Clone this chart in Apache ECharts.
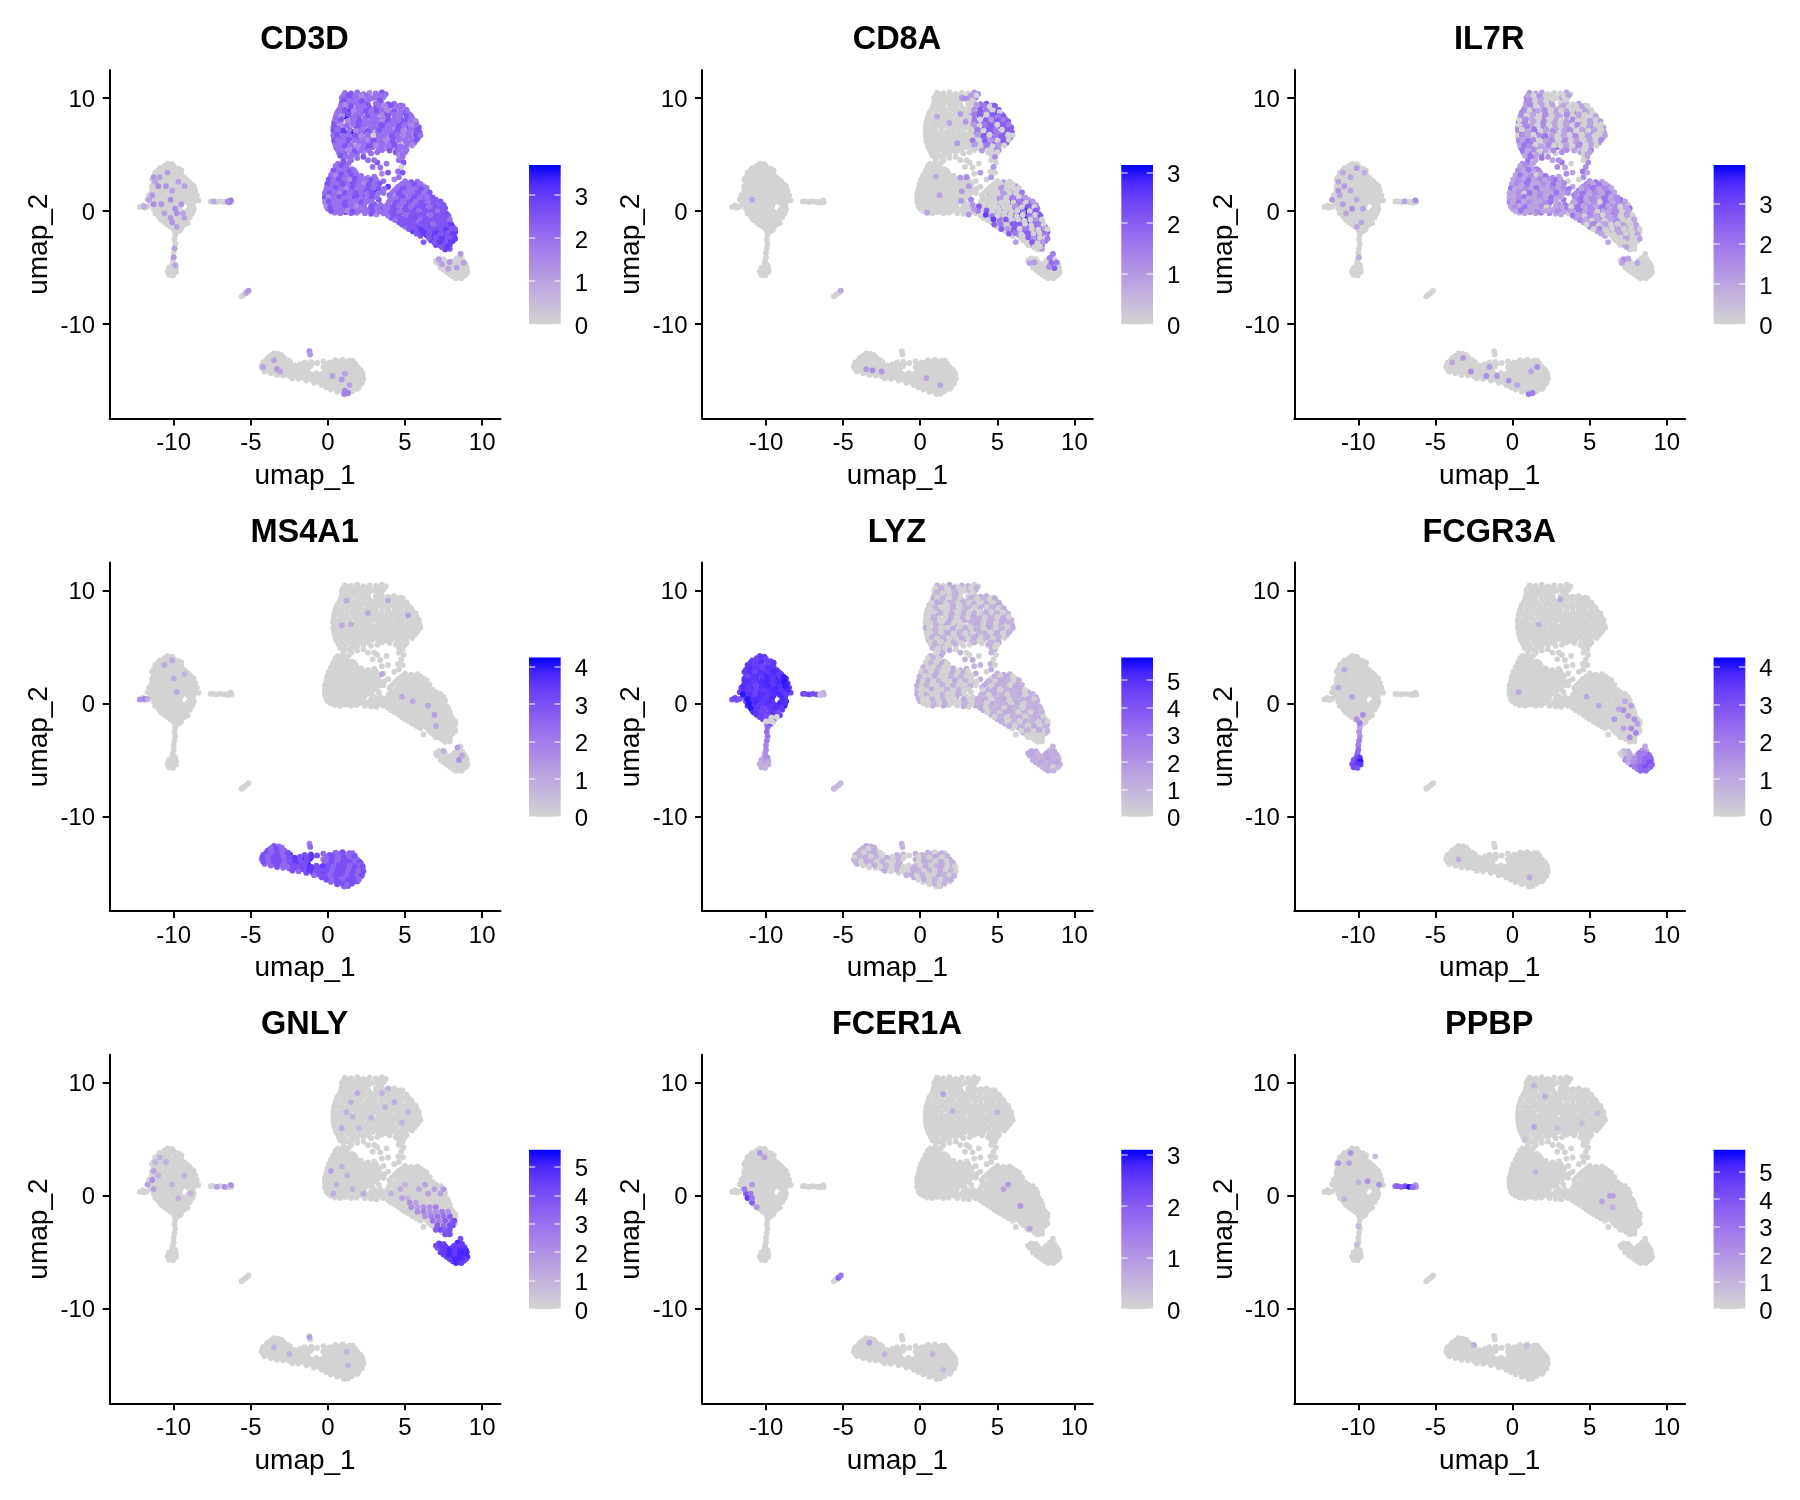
<!DOCTYPE html>
<html><head><meta charset="utf-8">
<style>html,body{margin:0;background:#fff}#c{width:1800px;height:1500px}</style>
<script src="https://cdn.jsdelivr.net/npm/echarts@6/dist/echarts.min.js"></script>
</head><body><div id="c"></div>
<script>
// Shared cell positions (flat x,y pairs per cluster)
const T1=[1.1,10.45,1.5,10.4,1.9,10.5,2.3,10.35,2.7,10.45,.9,10,1.2,10.05,1.6,9.95,2,10.1,2.3,9.9,2.9,10,.9,9.6,1.3,9.55,1.7,9.65,2.1,9.5,2.4,9.6,.8,9.1,1.2,9.2,1.5,9.05,1.9,9.15,2.3,9.05,2.7,9.15,.6,8.7,1,8.65,1.4,8.8,1.8,8.6,2.2,8.75,2.6,8.6,2.95,8.7,.5,8.3,.9,8.2,1.2,8.35,1.6,8.25,2,8.4,2.4,8.2,2.8,8.3,.4,7.85,.7,7.9,1.1,7.8,1.5,7.95,1.9,7.8,2.2,7.9,2.6,7.8,2.95,7.9,.35,7.4,.7,7.35,1,7.45,1.4,7.35,1.8,7.5,2.1,7.35,2.5,7.45,2.9,7.35,.4,6.95,.8,7,1.2,6.9,1.6,7,2,6.9,2.4,7,2.8,6.9,.4,6.5,.8,6.45,1.1,6.55,1.5,6.45,1.9,6.5,2.3,6.4,2.7,6.55,.45,6.05,.9,6,1.2,6.1,1.6,5.95,2,6.1,2.4,6,2.8,6.05,.55,5.6,.9,5.55,1.3,5.65,1.7,5.5,2.1,5.6,2.5,5.55,2.9,5.65,.7,5.2,1.1,5.1,1.5,5.25,1.9,5.1,2.3,5.2,2.8,5.1];
const T2=[3.1,10.4,3.5,10.5,3.75,10.35,3.2,10,3.6,10.05,3.1,9.5,3.5,9.55,3.9,9.45,4.3,9.5,4.7,9.35,3.1,9.1,3.5,9,3.9,9.1,4.3,9,4.7,9.05,5.1,8.95,3.3,8.7,3.7,8.6,4.1,8.7,4.5,8.6,4.9,8.7,5.3,8.55,3.1,8.3,3.5,8.2,3.9,8.3,4.3,8.2,4.7,8.3,5.1,8.2,5.5,8.15,3.3,7.85,3.7,7.8,4.1,7.9,4.4,7.8,4.8,7.9,5.2,7.8,5.6,7.85,3.2,7.4,3.6,7.45,4,7.35,4.4,7.45,4.8,7.35,5.2,7.45,5.6,7.35,5.9,7.4,3.2,6.95,3.5,6.9,3.9,7,4.3,6.9,4.7,7,5.1,6.9,5.5,7,5.95,6.95,3.1,6.5,3.5,6.55,3.9,6.45,4.3,6.55,4.7,6.45,5.1,6.55,5.5,6.45,5.85,6.5,3.2,6.05,3.6,6,4,6.1,4.4,5.95,4.8,6.1,5.2,6,5.6,6.05,3.3,5.6,3.7,5.55,4.1,5.65,4.5,5.5,4.9,5.6,5.1,5.4,3.2,5.2,4.4,5.2,4.8,5.1];
const T3=[2.9,3.9,3.2,4.3,3.4,3.85,3.5,3.3,3.8,4.2,3.9,3.4,3,4.5,4.85,4.8,4.9,4.3,4.6,4.5,4.75,3.9,4.55,3.5,4.85,3.4,4.6,3,4.3,2.8,1.3,4.8,1,4.5,1.5,4.5,1.9,4.7,2.3,4.8,2.6,4.5];
const T4=[.65,4.2,1,4.15,1.35,4.25,.5,3.8,.85,3.75,1.2,3.85,1.55,3.7,.35,3.4,.7,3.35,1.05,3.45,1.4,3.3,1.8,3.4,.2,3,.55,2.95,.9,3.05,1.25,2.9,1.6,3,1.95,3.05,2.6,2.95,3,3.05,.1,2.6,.45,2.55,.8,2.65,1.15,2.5,1.5,2.6,1.85,2.55,2.2,2.65,2.5,2.5,2.85,2.6,3.2,2.55,3.6,2.65,0,2.2,.35,2.25,.7,2.15,1.05,2.25,1.4,2.1,1.75,2.2,2.1,2.15,2.45,2.25,2.8,2.1,3.15,2.2,3.9,2.15,-.1,1.8,.25,1.75,.6,1.85,.95,1.7,1.3,1.8,1.65,1.85,2,1.7,2.35,1.8,2.7,1.75,3.05,1.85,3.4,1.75,-.15,1.4,.2,1.35,.55,1.45,.9,1.3,1.25,1.4,1.6,1.35,1.95,1.45,2.3,1.3,2.65,1.4,3,1.35,-.15,1,.2,1.05,.55,.95,.9,1.05,1.25,.9,1.6,1,1.95,.95,2.3,1.05,2.65,.9,3.3,1,-.1,.6,.25,.55,.6,.65,.95,.5,1.3,.6,1.65,.55,2,.65,2.35,.5,3,.6,3.4,.55,0,.2,.35,.15,.7,.25,1.05,.1,1.4,.2,1.75,.15,2.1,.25,2.6,.1,3.1,.2,3.5,.15,.45,-.15,.8,-.2,1.15,-.1,1.5,-.2,1.85,-.15,2.4,-.2,2.8,-.25,3.15,-.3];
const T5=[5,2.65,5.4,2.55,5.8,2.6,4.6,2.2,5,2.15,5.4,2.25,5.8,2.1,6.2,2.2,4.3,1.8,4.7,1.85,5.1,1.75,5.5,1.85,5.9,1.7,6.3,1.8,4,1.4,4.5,1.35,4.9,1.45,5.3,1.3,5.7,1.4,6.1,1.35,6.5,1.45,4.2,1,4.6,.95,5,1.05,5.4,.9,5.8,1,6.2,.95,6.6,1.05,7,1,3.9,.6,4.3,.55,4.7,.65,5.1,.5,5.5,.6,5.9,.55,6.3,.65,6.7,.5,7.1,.6,7.5,.55,3.7,.2,4.1,.15,4.5,.25,4.9,.1,5.3,.2,5.7,.15,6.1,.25,6.5,.1,6.9,.2,7.3,.15,7.6,.25,3.6,-.2,4,-.15,4.4,-.25,4.8,-.1,5.2,-.2,5.6,-.15,6,-.25,6.4,-.1,6.8,-.2,7.2,-.15,7.7,-.25,4.1,-.6,4.5,-.55,4.9,-.65,5.3,-.5,5.7,-.6,6.1,-.55,6.5,-.65,6.9,-.5,7.3,-.6,7.75,-.55,4.6,-1,5,-1.05,5.4,-.95,5.8,-1.05,6.2,-.9,6.6,-1,7,-.95,7.4,-1.05,7.9,-1,5,-1.4,5.4,-1.35,5.8,-1.45,6.2,-1.3,6.6,-1.4,7,-1.35,7.4,-1.45,7.8,-1.3,8.1,-1.4,5.5,-1.8,5.9,-1.85,6.3,-1.75,6.7,-1.85,7.1,-1.7,7.5,-1.8,7.9,-1.75,8.25,-1.85,6,-2.2,6.4,-2.15,6.8,-2.25,7.2,-2.1,7.6,-2.2,8,-2.15,8.2,-2.3,6.2,-2.75,6.7,-2.6,7.1,-2.55,7.5,-2.65,7.9,-2.55,8.1,-2.65,7,-3,7.3,-3.05,7.6,-2.95,7.9,-3.05,7.6,-3.4,7.9,-3.35];
const NK=[8.6,-3.8,7.2,-4.2,7.5,-4.25,8.4,-4.15,8.7,-4.25,7.1,-4.6,7.4,-4.55,7.75,-4.65,8.1,-4.55,8.5,-4.6,8.85,-4.55,7.3,-5,7.65,-4.95,8,-5.05,8.35,-4.95,8.7,-5.05,9,-5,7.7,-5.4,8.05,-5.35,8.4,-5.45,8.75,-5.35,9.05,-5.4,8.1,-5.8,8.45,-5.85,8.8,-5.75];
const MO=[-10.4,4.2,-10.1,4.15,-10.9,3.8,-10.5,3.75,-10.1,3.85,-9.7,3.75,-11.2,3.4,-10.8,3.35,-10.4,3.45,-10,3.3,-9.6,3.4,-11.3,3,-10.9,2.95,-10.5,3.05,-10.1,2.9,-9.7,3,-9.3,2.95,-11.3,2.6,-10.9,2.55,-10.5,2.65,-10.1,2.5,-9.7,2.6,-9.3,2.55,-9,2.6,-11.4,2.2,-11,2.25,-10.6,2.15,-10.2,2.25,-9.8,2.1,-9.4,2.2,-9,2.15,-8.7,2.2,-11.3,1.8,-10.9,1.75,-10.5,1.85,-10.1,1.7,-9.7,1.8,-9.3,1.85,-8.9,1.75,-8.6,1.8,-11.6,1.4,-11.2,1.35,-10.8,1.45,-10.4,1.3,-10,1.4,-9.6,1.35,-9.2,1.45,-8.8,1.3,-8.5,1.4,-11.7,1,-11.3,1.05,-10.9,.95,-10.5,1.05,-10.1,.9,-9.7,1,-9.3,.95,-8.9,1.05,-8.5,1,-11.4,.6,-11,.55,-10.6,.65,-10.2,.5,-9.8,.6,-9.5,.7,-8.8,.55,-11.3,.2,-10.9,.15,-10.5,.25,-10.1,.1,-9.7,.2,-8.7,.2,-11.2,-.2,-10.8,-.15,-10.4,-.25,-10,-.1,-9.6,-.2,-9.2,-.15,-8.8,-.2,-10.9,-.6,-10.5,-.55,-10.1,-.65,-9.7,-.5,-9.3,-.6,-8.95,-.55,-10.6,-1,-10.2,-1.05,-9.8,-.95,-9.4,-1,-9.1,-1.05,-10.2,-1.4,-9.8,-1.35,-9.5,-1.45,-9.95,-1.75,-9.7,-1.8,-12.2,.35,-11.9,.3,-12,.5,-11.7,.4];
const ST=[-9.9,-2.1,-9.95,-2.5,-9.9,-2.9,-9.95,-3.3,-10,-3.7,-10,-4.1,-10.05,-4.4,-10.1,-4.7,-9.9,-4.8,-10.3,-5,-10,-5.1,-9.85,-5.1,-10.4,-5.35,-10.1,-5.4,-9.85,-5.4,-10.3,-5.65,-10.05,-5.7];
const SK=[-8.65,1,-8.4,.95,-7.6,.85,-7.45,.85,-7.2,.8,-6.95,.85,-6.7,.8,-6.5,.8,-6.3,.95,-6.25,.8,-6.45,.75];
const DC=[-5.6,-7.55,-5.45,-7.4,-5.3,-7.25,-5.15,-7.05];
const B=[-1.2,-12.4,-1.15,-12.7,-3.5,-12.6,-3.2,-12.65,-3.9,-13,-3.55,-12.95,-3.2,-13.05,-2.85,-13,-4.2,-13.4,-3.85,-13.35,-3.5,-13.45,-3.15,-13.3,-2.8,-13.4,-2.45,-13.35,.4,-13.35,.8,-13.3,1.2,-13.35,1.6,-13.25,-1.5,-13.4,-1.1,-13.35,-.7,-13.45,-.3,-13.3,.1,-13.4,-4.3,-13.8,-3.95,-13.75,-3.6,-13.85,-3.25,-13.7,-2.9,-13.8,-2.55,-13.75,-2.2,-13.85,-1.85,-13.7,-1.5,-13.8,-1.15,-13.75,-.3,-13.8,.05,-13.7,.4,-13.8,.8,-13.75,1.2,-13.85,1.6,-13.7,1.9,-13.8,-4.1,-14.2,-3.75,-14.15,-3.4,-14.25,-3.05,-14.1,-2.7,-14.2,-2.35,-14.15,-2,-14.25,-1.65,-14.1,-1.3,-14.2,-.2,-14.2,.15,-14.15,.5,-14.25,.85,-14.1,1.2,-14.2,1.55,-14.15,1.9,-14.25,2.15,-14.15,-3.3,-14.5,-2.9,-14.55,-2.5,-14.6,-2.1,-14.55,-1.7,-14.65,-1.35,-14.55,-1,-14.6,-.6,-14.5,-.25,-14.65,.1,-14.55,.45,-14.6,.8,-14.5,1.15,-14.65,1.5,-14.55,1.85,-14.6,2.25,-14.55,-1.4,-15,-1,-14.95,-.6,-15.05,-.25,-14.9,.1,-15,.45,-14.95,.8,-15.05,1.15,-14.9,1.5,-15,1.85,-14.95,2.2,-15.05,-.4,-15.4,-.05,-15.35,.3,-15.45,.65,-15.3,1,-15.4,1.35,-15.35,1.7,-15.45,2.05,-15.35,.2,-15.8,.55,-15.75,.9,-15.85,1.25,-15.7,1.6,-15.8,1.9,-15.75,1.05,-16.2,1.3,-16.15];
// Cells lying between the rows above, where the reference packs its clusters tighter
const FA=[1,10.2,1.35,10.25,1.75,10.15,2.15,10.25,2.55,10.2,1.05,9.8,1.45,9.75,1.85,9.85,2.2,9.75,2.65,9.85,.85,9.35,1.1,9.4,1.5,9.3,1.9,9.4,2.25,9.3,2.6,9.4,.7,8.9,1.1,8.95,1.65,8.85,2.05,8.95,2.45,8.85,2.85,8.95,.55,8.5,.95,8.45,1.35,8.55,1.75,8.45,2.15,8.55,2.55,8.4,2.95,8.5,.45,8.05,.85,8.1,1.3,8,1.7,8.1,2.05,8,2.4,8.1,2.8,8.05,.4,7.6,.85,7.65,1.25,7.55,1.65,7.65,2,7.55,2.35,7.65,2.75,7.6,.35,7.15,.6,7.2,1,7.1,1.4,7.2,1.8,7.1,2.2,7.2,2.6,7.1,.35,6.7,.6,6.75,1,6.65,1.35,6.75,1.75,6.7,2.15,6.65,2.55,6.75,2.95,6.7,.4,6.25,.65,6.3,1,6.2,1.35,6.3,1.75,6.25,2.15,6.2,2.55,6.3,2.95,6.25,.5,5.8,.75,5.85,1.1,5.75,1.5,5.85,1.9,5.75,2.3,5.85,2.7,5.8,.65,5.4,.95,5.35,1.35,5.45,1.75,5.3,2.15,5.4,2.65,5.35,.8,4.9,1.15,4.85,1.6,4.95];
const FT=[3.3,10.2,3.65,10.25,3.4,9.8,3.3,9.35,3.7,9.3,4.1,9.35,4.5,9.25,4.85,9.3,3.15,8.9,3.5,8.85,3.9,8.95,4.3,8.8,4.7,8.9,5.15,8.75,3.5,8.5,3.9,8.45,4.3,8.55,4.7,8.5,5.1,8.45,5.4,8.4,3.15,8.05,3.5,8,3.9,8.1,4.25,8,4.6,8.1,5,8,5.4,8.05,5.7,7.95,3.1,7.6,3.45,7.65,3.85,7.55,4.2,7.65,4.6,7.55,5,7.65,5.4,7.6,5.75,7.65,3.35,7.15,3.7,7.2,4.1,7.1,4.5,7.2,4.9,7.1,5.3,7.2,5.75,7.15,3.3,6.7,3.7,6.75,4.1,6.65,4.5,6.75,4.9,6.7,5.3,6.65,5.7,6.75,6,6.7,3.4,6.25,3.8,6.3,4.2,6.2,4.6,6.3,5,6.25,5.4,6.2,5.75,6.3,3.1,5.8,3.5,5.85,3.9,5.75,4.3,5.85,4.7,5.75,5.1,5.85,5.45,5.8,3.5,5.4,4,5.35,4.6,5.4,5,5.2,4.6,4.95,4.85,5];
const FC=[.5,4,.85,4.05,1.2,3.95,.35,3.6,.7,3.55,1.05,3.65,1.4,3.5,1.7,3.6,.2,3.2,.5,3.15,.85,3.25,1.2,3.1,1.55,3.2,1.85,3.25,2.15,3.1,.05,2.8,.35,2.75,.7,2.85,1.05,2.7,1.4,2.8,1.75,2.85,2.1,2.75,2.45,2.85,2.8,2.75,3.1,2.85,-.05,2.4,.3,2.45,.6,2.35,.95,2.45,1.3,2.35,1.65,2.4,2,2.35,2.35,2.45,2.65,2.35,3,2.4,3.35,2.45,-.1,2,.15,1.95,.5,2.05,.85,1.95,1.2,2,1.55,2.05,1.9,1.95,2.25,2.05,2.6,1.95,2.95,2,3.3,2.05,3.65,1.95,-.2,1.6,.1,1.55,.4,1.65,.75,1.55,1.1,1.6,1.45,1.65,1.8,1.55,2.15,1.6,2.5,1.55,2.85,1.65,3.25,1.55,3.6,1.6,-.2,1.2,.05,1.25,.4,1.15,.75,1.25,1.05,1.15,1.4,1.2,1.75,1.25,2.15,1.15,2.5,1.2,2.85,1.15,3.15,1.25,-.2,.8,.05,.85,.4,.75,.75,.85,1.1,.75,1.45,.8,1.8,.85,2.15,.75,2.45,.8,2.85,.85,-.1,.4,.15,.35,.45,.45,.8,.35,1.15,.4,1.5,.35,1.85,.45,2.2,.35,2.8,.4,3.2,.35,3.7,.4,.2,0,.55,.05,.9,-.05,1.25,.05,1.6,-.05,2,0,2.3,.05,2.9,0,3.35,-.05];
const FD=[4.8,2.4,5.2,2.45,5.6,2.35,6,2.4,4.45,2,4.85,1.95,5.25,2.05,5.65,1.95,6.05,2,6.4,2.05,4.15,1.6,4.6,1.55,5,1.65,5.4,1.55,5.8,1.6,6.2,1.55,6.6,1.65,4.05,1.2,4.4,1.15,4.8,1.25,5.2,1.15,5.6,1.2,6,1.15,6.4,1.25,6.8,1.2,3.95,.8,4.45,.75,4.85,.85,5.25,.75,5.65,.8,6.05,.75,6.45,.85,6.85,.75,7.3,.85,3.8,.4,4.2,.35,4.6,.45,5,.35,5.4,.4,5.8,.35,6.2,.45,6.6,.35,7,.4,7.4,.35,3.75,0,4.3,.05,4.7,-.05,5.1,.05,5.5,-.05,5.9,0,6.3,.05,6.7,-.05,7.1,0,7.5,.05,3.9,-.4,4.25,-.35,4.65,-.45,5.05,-.35,5.45,-.4,5.85,-.35,6.25,-.45,6.65,-.35,7.05,-.4,7.45,-.35,7.8,-.4,4.35,-.8,4.75,-.75,5.15,-.85,5.55,-.75,5.95,-.8,6.35,-.75,6.75,-.85,7.15,-.75,7.55,-.8,7.9,-.75,4.8,-1.2,5.2,-1.15,5.6,-1.25,6,-1.15,6.4,-1.2,6.8,-1.15,7.2,-1.25,7.6,-1.15,8,-1.2,5.25,-1.6,5.65,-1.55,6.05,-1.65,6.45,-1.55,6.85,-1.6,7.25,-1.55,7.65,-1.65,8.05,-1.55,8.25,-1.6,5.75,-2,6.15,-1.95,6.55,-2.05,6.95,-1.95,7.35,-2,7.75,-1.95,8.1,-2.05,6.55,-2.4,7,-2.35,7.35,-2.45,7.75,-2.35,8.1,-2.4,8.25,-2.45,6.9,-2.8,7.25,-2.75,7.6,-2.85,7.95,-2.75,7.4,-3.2,7.75,-3.15];
const FM=[-10.6,4,-10.3,4.05,-10,3.95,-11,3.6,-10.7,3.55,-10.3,3.65,-9.9,3.55,-9.5,3.6,-11.1,3.2,-10.7,3.15,-10.3,3.25,-9.9,3.15,-9.5,3.2,-11.4,2.8,-11.1,2.75,-10.7,2.85,-10.3,2.75,-9.9,2.8,-9.5,2.85,-9.15,2.75,-11.2,2.4,-10.7,2.35,-10.3,2.45,-9.9,2.35,-9.5,2.4,-9.15,2.45,-8.85,2.35,-11.4,2,-11.1,1.95,-10.7,2.05,-10.3,1.95,-9.95,2,-9.55,2.05,-9.2,1.95,-8.8,2,-11.45,1.6,-11.1,1.55,-10.7,1.65,-10.3,1.55,-9.9,1.6,-9.5,1.65,-9.1,1.55,-8.7,1.6,-11.5,1.2,-11,1.15,-10.6,1.25,-10.2,1.15,-9.8,1.2,-9.4,1.25,-9,1.15,-8.6,1.2,-11.5,.8,-11.1,.75,-10.7,.85,-10.3,.75,-9.9,.8,-9.5,.85,-9.1,.75,-8.7,.8,-11.2,.4,-10.8,.35,-10.4,.45,-10,.35,-9.6,.4,-8.75,.35,-8.95,.4,-11.1,0,-10.7,.05,-10.3,-.05,-9.9,.05,-9.5,-.05,-8.75,0,-9.1,.05,-11,-.4,-10.6,-.35,-10.2,-.45,-9.8,-.35,-9.4,-.4,-9,-.35,-10.8,-.8,-10.35,-.75,-9.95,-.85,-9.55,-.75,-9.2,-.8,-10.4,-1.2,-10,-1.15,-9.65,-1.25,-9.3,-1.2,-10,-1.6,-9.75,-1.55,-9.55,-1.65];
const FL=[-3.7,-12.8,-3.35,-12.85,-3,-12.75,-4,-13.2,-3.65,-13.15,-3.3,-13.25,-2.95,-13.15,-2.6,-13.2,.5,-13.2,.95,-13.15,1.4,-13.25,1.75,-13.5,-4.25,-13.6,-3.9,-13.55,-3.55,-13.65,-3.2,-13.55,-2.85,-13.6,-2.5,-13.55,-2.15,-13.65,-1.8,-13.55,-1.4,-13.6,-1.05,-13.55,-.1,-13.6,.25,-13.55,.6,-13.65,1,-13.55,1.4,-13.6,-4.2,-14,-3.85,-13.95,-3.5,-14.05,-3.15,-13.95,-2.8,-14,-2.45,-13.95,-2.1,-14.05,-1.75,-13.95,-1.4,-14,-.1,-14,.25,-13.95,.6,-14.05,1,-13.95,1.35,-14,1.75,-13.95,2.05,-14,-3.7,-14.35,-3.3,-14.4,-2.95,-14.35,-2.6,-14.45,-2.2,-14.35,-1.85,-14.4,-1.5,-14.35,-1.1,-14.45,-.75,-14.35,-.35,-14.4,0,-14.35,.35,-14.45,.7,-14.35,1.05,-14.4,1.4,-14.35,1.75,-14.45,2.1,-14.35,2.25,-14.4,-2.3,-14.8,-1.9,-14.85,-1.5,-14.75,-1.2,-14.8,-.8,-14.85,-.45,-14.75,-.1,-14.8,.25,-14.85,.6,-14.75,.95,-14.8,1.3,-14.85,1.65,-14.75,2,-14.8,2.3,-14.85,-.9,-15.2,-.55,-15.15,-.2,-15.25,.15,-15.15,.5,-15.2,.85,-15.15,1.2,-15.25,1.55,-15.15,1.9,-15.2,2.2,-15.25,-.1,-15.6,.25,-15.55,.6,-15.65,.95,-15.55,1.3,-15.6,1.65,-15.55,2,-15.6,.6,-16,.95,-15.95,1.25,-16.05,1.55,-15.95];
const FK=[7,-4.4,7.3,-4.4,7.6,-4.45,7.55,-4.85,7.9,-4.85,8.25,-4.8,8.6,-4.8,8.95,-4.8,7.5,-5.2,7.85,-5.2,8.2,-5.25,8.55,-5.2,8.9,-5.2,7.9,-5.6,8.25,-5.6,8.6,-5.65,8.95,-5.6,8.3,-5.95,8.65,-5.95,8.55,-4.4,8.2,-4.4];

// Gene names, colour-bar tops and tick labels
const genes=['CD3D','CD8A','IL7R','MS4A1','LYZ','FCGR3A','GNLY','FCER1A','PPBP'];
const geneMax=[3.7,3.15,3.96,4.24,5.83,4.25,5.6,3.09,5.8];
const barTicks=[[0,1,2,3],[0,1,2,3],[0,1,2,3],[0,1,2,3,4],[0,1,2,3,4,5],[0,1,2,3,4],[0,1,2,3,4,5],[0,1,2,3],[0,1,2,3,4,5]];
const xTicks=[-10,-5,0,5,10], yTicks=[-10,0,10];

// Expression read per cluster (same order as the cluster's points)
const CD3D_T1=[2,2.5,2,2,1.5,2,2,2.5,2,1.5,2,2.5,2,2,3,2,2,1.5,2.5,2,2,2.5,2,2.5,3,2,1.5,2,2.5,2,2,3.5,2,2.5,2,2,2.5,2,0,2,2.5,2,2,2.5,2,2.5,2,0,2.5,2,1.5,2,2.5,2,3,3.5,2,2.5,2,2,2.5,2,2,2.5,2,2,2,1.5,2.5,0,2,2.5,2,2.5,2,2,2,1.5,2.5,2,2,2.5,2,2,1.5,2];
const CD3D_T2=[2,2.5,2,2,1.5,2,1.5,2.5,2,2,2.5,2,2,1.5,2.5,2,2,2.5,2,1.5,2.5,2,2,2.5,1.5,2,2.5,2,2,1.5,2.5,2,2,2.5,1.5,2,2,3,2,1.5,2,2.5,2,2.5,2,1.5,2,2.5,2,2,1.5,2.5,2,2,0,2.5,2,2,1.5,2.5,2,2,2,1.5,0,2.5,2,2,1.5,2,2.5,2,2,2,2.5,1.5];
const CD3D_T3=[2,2.5,2,1.5,2,2.5,2,2,2.5,2,0,2,2.5,2,1.5,2,2.5,2,2,2.5,2];
const CD3D_T4=[2,2.5,2,2,1.5,2.5,2,2,2.5,2,1.5,2,2.5,2,2,3,2.5,2,1.5,2,2.5,2,2,2.5,3,2,2,1.5,2.5,2,2,2.5,2,3,2.5,1.5,2,2,2.5,2,0,3,2.5,2,2,1.5,2.5,2,2.5,3,2,3.5,2,2,2.5,2,2,1.5,2.5,3,3,2,2.5,2,2,1.5,0,2.5,2,2,3.5,2,2.5,2,1.5,2,2.5,2,2,1.5,2,2.5,2,2,2.5,1.5,2,2.5,2,2,2,1.5,2.5,2,2,2.5,2,2,2,2.5,1.5];
const CD3D_T5=[2,2.5,2,2,2.5,2,2,1.5,2,2.5,2,2,2.5,2,2.5,2,2.5,2,2,2.5,2,2,2.5,2,3,2,2.5,2,2.5,2,2.5,2,2.5,2,2.5,2.5,2.5,2,2.5,2,2,2.5,2.5,2,3,2.5,2.5,2.5,2.5,2.5,2,2.5,2,2.5,2,2.5,3,2,2.5,2.5,3,2.5,2,2.5,2.5,3,2,2.5,2.5,2.5,3,2.5,2.5,2.5,2,3,2.5,2.5,2.5,3,2,2.5,3,2.5,3,2,2.5,2.5,2.5,3,2.5,3,2.5,3,2.5,2.5,3,2.5,3,3,2.5,3,2.5,3,2.5,3,2.5,3,2.5,3,3,2.5,3,2.5,3,2.5];
const CD3D_FA=[2,2.5,2,1.5,2,2.5,2,2,2.5,2,2,1.5,2.5,2,2,2.5,2,2.5,1.5,2,2.5,2,2,1.5,2.5,2,2,2.5,2,2,2.5,1.5,2,2.5,2,2,2.5,1.5,2,2,2.5,2,2,2.5,2,3,2,1.5,2,2.5,2,2.5,2,2,2.5,1.5,2,0,2.5,2,2,2.5,2,2,1.5,2.5,2,2,2.5,2,1.5,2,2.5,2,2,1.5,2.5,2,2,2.5,2,2];
const CD3D_FB=[2,2,2.5,2,1.5,2.5,2,2,2.5,2,1.5,2.5,2,2,1.5,2.5,2,2,2.5,2,2,1.5,2.5,2,2,2.5,2,1.5,2,2.5,2,2,2.5,2,1.5,2,2.5,2,2,2.5,1.5,2,2.5,2,2,2.5,2,1.5,2,2.5,2,2,1.5,2.5,2,2,2,2.5,1.5,2,2,2.5,2,2,1.5,2,2.5,2,2,1.5,2];
const CD3D_FC=[2,2.5,2,2.5,2,2,2.5,2,2,1.5,2.5,2,2.5,2,2,2.5,2,2.5,2,1.5,2.5,2,2,2.5,2,2.5,2,2,2.5,2,2.5,2,1.5,2.5,2,2.5,2,2,2.5,2,1.5,2.5,2,2,2.5,2,2.5,2,2,2.5,2,1.5,2.5,2,2.5,2,2,2.5,2,2,2.5,1.5,2,2.5,2,2,2.5,2,2,2.5,2,1.5,2.5,2,2,2.5,2,2,2.5,2,2,1.5,2.5,2,2,2.5,2,1.5,2,2.5,2,2,2.5,2,2,1.5,2.5,2,2,2.5,2];
const CD3D_FD=[2,2,2.5,2,2,2.5,2,2,2.5,2,2,2.5,2,2,2.5,2,2.5,2,2,2.5,2,2.5,2,2,2.5,2,2.5,2,2.5,2,2.5,2,2.5,2.5,2,2.5,2,2.5,2,2.5,2.5,2,2.5,2.5,2,2.5,2,2.5,2.5,2,2.5,2.5,2,2.5,2,2.5,2.5,2,2.5,2.5,2.5,2,2.5,2.5,2.5,2,2.5,2.5,2.5,2,2.5,2.5,2.5,2.5,2,2.5,2.5,2.5,2.5,2.5,2,2.5,2.5,3,2.5,2.5,3,2.5,2.5,2.5,3,2.5,2.5,2.5,3,2.5,3,2.5,2.5,3,2.5,2.5,3,2.5,2.5,3,2.5,3,2.5,3,2.5,3];
const CD3D_M=[-11.3,3,1.2,-11.2,2.6,1,-11,2.2,1.4,-11.4,1.4,1.2,-11.6,1,1,-11.3,.6,1.3,-10.9,3,1,-10.5,2.2,1.2,-10.1,1.8,1,-10.2,1,1.3,-9.7,2.6,1,-9.5,.6,1.2,-10.6,-.2,1,-10.2,-.6,1.2,-9.8,-.2,1.4,-9.4,-.2,1,-10.1,-1,1.3,-9.8,-1.4,1,-9.3,2.2,1,-10.8,.6,1.2,-9.9,.2,1.4,-11.9,.4,.8,-9.3,-.6,1,-10.4,3.4,1.1,-9.95,-3.3,1,-10,-4.1,1.2,-9.9,-4.8,1,-6.4,.8,2,-6.3,.95,1.8,-6.5,.85,1.5,-7.4,.85,.8,-5.3,-7.25,1,-5.15,-7.05,1.2,7.2,-4.3,1.2,7.4,-4.7,1,7.9,-4.5,1.2,8.6,-3.8,1.2,8.35,-5,1.1,8.8,-4.6,1,7.8,-5.1,1,-1.2,-12.4,1.3,-1.15,-12.7,1.1,-3.5,-13.2,1,-3.3,-14,1.2,-3.1,-14.2,1,-4.2,-13.8,1,.9,-14.9,1.2,1.1,-15.9,1.5,1.3,-16.1,1.7,1.05,-16.2,1.6,1.4,-15.4,1,.3,-14.6,1,1.1,-14.4,1];

const CD8A_T2=[0,1,1.5,1,1.5,0,1,1.5,2,1.5,0,1.5,2,1.5,2,2,1,2,1.5,2,2.5,2,0,1,2,1.5,2,2,2,1,1.5,2,2,1.5,2,2,0,1,2,2,1.5,2,2,2,0,1.5,1,2,2,1.5,2,2,0,0,1.5,1,2,2,1.5,2,0,1,0,1.5,2,1.5,2,0,0,1,0,1.5,1,0,0,1];
const CD8A_T5=[0,1,0,0,0,1,0,1,0,0,1,0,1.5,0,0,1,0,0,1.5,2,1,0,0,1.5,0,2,1.5,2,1,0,0,0,1,0,2,2.5,1.5,2,1,0,0,0,0,1.5,0,2,2.5,3,2,1.5,0,0,0,1,0,2,1.5,2.5,3,2,1.5,0,0,0,1.5,0,2,2.5,3,2,1.5,0,0,0,1,2,1.5,2.5,2,2,0,1,0,2,1.5,2.5,2,1.5,2,0,0,1.5,2,1,2,2.5,2,0,1,0,2,2,1.5,2,1,0,0,2,1.5,2,0,1,2,1.5,0,1];
const CD8A_FB=[1,0,0,0,1,1.5,0,2,0,1,2,1.5,0,0,1.5,2,0,2,1.5,2,0,1.5,0,2,1,2,1.5,2,0,1,0,1.5,2,0,2,1.5,0,1.5,0,2,1.5,0,2,0,1,2,0,1.5,2,0,0,1.5,0,2,1,0,2,0,0,1,0,1.5,0,1,0,0,1,0,0,0,0];
const CD8A_FD=[0,0,0,0,0,0,1,0,0,0,0,0,0,1,0,0,1.5,0,0,0,1,0,1.5,0,1,0,0,0,0,0,0,1.5,0,1,2,0,0,0,0,0,1,0,2,0,1.5,2,0,0,0,0,0,1.5,0,2,0,2.5,1.5,0,0,0,0,0,1.5,0,2,0,2.5,1.5,2,0,0,0,0,1,0,2,1.5,0,2,2,0,0,1.5,0,2,1,2,0,1.5,0,0,1,0,2,1.5,0,2,0,0,1.5,0,2,1,0,0,1.5,0,2,0,1];
const CD8A_M=[2.7,10,1,2.9,9.95,1.2,2.6,8.6,1,2.95,7.9,1,1.9,7.8,.8,2.4,6,1,1.1,8.35,.7,1,3.05,.7,2.6,2.95,1,3,3,1.2,3.15,2.2,1,2.7,1.75,1,2.65,.9,1,3.3,1,1.3,3.4,.55,1,3.5,.15,1,3.15,-.3,1,1.25,1.4,.8,.45,-.15,.8,4.85,4.8,1.2,4.75,3.9,1,3.9,3.4,1,4.6,3,1,-3.5,-14,1,-3.1,-14.1,1.2,-2.5,-14.2,1,.4,-14.8,.8,1.3,-15.4,.8,8.6,-3.8,1.5,8.4,-4.15,1.5,8.5,-4.6,1.8,8.7,-5.05,2,8.85,-4.55,1.5,8.35,-4.95,1.2,7.4,-4.55,1,7.1,-4.6,.8,-10.9,1,.8,-5.15,-7.05,.7];

const IL7R_T1=[1.5,1,1,0,0,1.5,1.5,0,1,0,0,1.5,1.5,1,0,1,2,1.5,1,0,1,0,1.5,1,1.5,0,1.5,1,0,1.5,1.5,1,0,1.5,0,1,2,1.5,0,1,1.5,0,1,0,1.5,1.5,2,1,0,1.5,0,1,1.5,1,1.5,2,1,0,1,1.5,1.5,1,0,2,1,0,1.5,1.5,2,1,0,1.5,1,2,1.5,1,1.5,0,1,2,1.5,2,1,1.5];
const IL7R_T2=[0,1,0,1,0,0,1,0,1,0,1,0,1.5,0,1,0,0,1,1.5,0,1,0,1,0,1.5,1,0,1,0,1,1.5,0,1,0,1,0,0,1.5,1,0,1,1.5,0,1,0,1,1.5,0,1,1.5,0,1,0,1,1.5,0,1,1.5,0,1.5,1,0,1,1.5,0,1,1.5,1,0,1.5,1,0,1.5,1.5,1,0];
const IL7R_T3=[1.5,2,1,1.5,0,1,1.5,1,1.5,0,1.5,2,1,1.5,0,1.5,2,1,2,1.5,1];
const IL7R_T4=[1.5,2,1,1.5,1,1.5,2,1.5,1,1,2,1.5,1,2,1.5,1,1,2,1.5,1,2,1.5,2,1,1,1.5,2,1.5,1,2,0,2,1,1.5,2,1.5,1,2,2,1.5,1,1,2,1.5,2,1,1,2,1.5,1,2,1,1.5,2,1,1,2,2,1.5,1,0,2,1.5,2,1,1,2,1.5,1,2,1.5,1,2,1.5,1,1,2,1.5,1,2,1,1.5,2,1,2,1.5,1,2,1,1.5,1,2,2,1,1,1.5,1,2,1.5,1,1];
const IL7R_T5=[1.5,2,1,1.5,2,1,2,1.5,2,1.5,2,1,2,1.5,2,2,1,1.5,2,1,2,1.5,1,2,1.5,2,1,1.5,2,2,1.5,2,1,2,1.5,2,1,1.5,0,2,1.5,2,1,2,1.5,2,1.5,1,1.5,2,0,1,1.5,2,1,2,1.5,2,1,1.5,0,1,2,1.5,1,2,1.5,1,0,1,1.5,1,1.5,2,1,0,1.5,1,0,0,1.5,1,0,1,1.5,0,1,0,0,1,0,1,1,0,1,0,0,1,0,0,1,1,0,0,1,0,0,1,0,0,0,1,0,0,0,0];
const IL7R_FA=[1,0,1.5,0,0,1.5,0,1,0,0,1,1.5,0,1,0,1,1.5,0,1,1.5,0,1,1.5,0,1,0,1.5,0,1,0,1.5,1,0,1.5,0,1,0,1.5,1,0,1.5,0,1,1.5,0,1,2,0,1,1.5,0,1.5,1,0,1.5,2,1,0,1.5,1,2,1.5,0,1,1.5,0,1,2,1.5,0,1,1.5,0,2,1,1.5,0,1,1.5,1,2,1];
const IL7R_FB=[0,1,0,1,0,0,1,0,0,1,0,0,1,0,1.5,0,1,0,0,1,0,1,1.5,0,0,1,0,1,0,1,0,1.5,0,1,0,0,1,1.5,0,1,0,1,0,1,0,1.5,0,1,0,0,1,1.5,0,1,0,1,0,1.5,0,1,0,1.5,0,1,0,1.5,1,0,1,0,1];
const IL7R_FC=[1,1.5,1,1.5,1,2,1,1.5,1,2,1,1.5,0,1,2,1,1.5,1,2,1,1.5,1,1.5,2,1,1,1.5,1,2,1,1,1.5,1,2,1,1.5,2,1,1,1.5,1,2,1,1,1.5,1,1.5,2,1,1,1.5,0,2,1,1.5,1,1,2,1,1.5,1,1,1.5,2,1,1,1.5,1,2,1,1,1.5,1,2,1,1.5,1,1,1.5,2,1,1,1.5,1,2,1,1,1.5,0,1,1,1.5,1,2,1,1,1.5,1,1,1.5,1];
const IL7R_FD=[1.5,1,2,1,1,1.5,2,1,1.5,1,1.5,2,1,1.5,1,2,1,1.5,2,1,1.5,1,2,1,1.5,1,2,1,1.5,0,2,1,1.5,1,0,2,1,1.5,1,2,1,1.5,0,1,1,2,1,1.5,0,1,1,1.5,0,1,2,1,0,1.5,1,0,1,1.5,0,1,0,1.5,1,0,1,0,1,1.5,0,0,1,0,1.5,0,1,0,0,1,0,1,0,1.5,0,0,1,0,0,1,0,1,0,0,1,0,0,1,0,0,1,0,0,1,0,0,0,0,1,0];
const IL7R_M=[-11.3,2.6,1,-10.9,2.2,1.2,-10.5,3,1,-10.1,3.8,1.2,-11.2,1.4,1,-11,.6,1.2,-10.8,-.2,1,-10.4,.2,1.4,-9.6,3.4,.8,-9.7,.2,1,-11,3.4,1,-10.5,1.8,1,-9.8,-1,1,-9.95,-4.1,.8,-10.1,-1.4,1,-11.7,1,1.2,-10.1,1,.9,-11.3,1.8,1.3,-6.3,.95,1.5,-7,.85,1,-3.9,-13.4,1,-3.2,-13,1.2,-2.7,-14.2,1.5,-1.7,-14.6,1.5,-1,-14.6,1.3,-.25,-15,1.4,.3,-15.4,1,1.05,-16.2,2,1.3,-16.1,1.8,1.2,-14.2,1,1.6,-13.8,1.5,-1.5,-13.8,1.2,7.2,-4.3,1.5,7.1,-4.6,1,8.1,-4.6,1,7.5,-4.2,1];

const MS4A1_B=[2,2.5,3,2.5,3,2.5,3,2.5,3,2.5,3,2.5,3,3.5,3,2.5,2,2.5,3,3.5,3,2.5,3,2,3,2.5,3,2.5,3,3.5,3,4,3.5,2.5,3,2.5,2,3,2.5,2,2.5,3,2.5,3,3,3.5,3,3.5,4,3,3,2.5,3,2.5,3,2,2.5,2,2.5,3,3,3.5,4,3.5,3,3.5,3,2.5,3,2.5,2,3,2.5,3,3.5,3,3.5,3,2.5,3,3.5,2.5,3,2.5,3,2.5,3,2.5,3.5,3,2.5,3,2.5,3,3,2.5,3.5,3,2.5,3];
const MS4A1_FL=[2.5,3,2.5,3,2.5,3,2.5,3,2.5,3,2.5,3,3,2.5,3,3,2.5,3,3.5,3,3,3.5,2.5,3,2.5,3,2.5,3,2.5,3,3,2.5,3,3.5,3,3,2.5,3,2.5,3,3,2.5,3,2.5,3,2.5,2.5,3,3,3,3.5,3,3.5,3,2.5,3,3,2.5,3,2.5,3,3,2.5,3,3.5,3,3,3,2.5,3,3,2.5,3,2.5,3,2.5,3,3,2.5,3,3,2.5,3,2.5,3,3,2.5,3,2.5,3,3,2.5,3,3,2.5,3];
const MS4A1_M=[1.2,9.1,1,2.6,8,1,1.5,7,.9,3.9,9.1,1,.9,6.9,1,5.2,7.8,1.2,4.8,.6,1,5.5,.2,1,6.5,-.2,1,6.9,-1,1.2,7,-2,1,3.5,2.6,1,8.5,-5,1.5,8.7,-4.6,1,7.5,-4.2,.8,8.4,-3.9,1.2,-11.9,.4,2,-12.2,.35,1.5,-11.7,.4,1,-10.6,3.4,1,-10.1,3.8,1,-9.8,1,1,-10,2.2,1,-9.3,2.6,.8];

const LYZ_T1=[1,0,1.2,0,1,0,1.2,1,0,1,0,0,1,1,0,1.2,0,1,0,1.2,0,1,1,0,1.2,0,1,0,1,1.2,0,1,0,1.2,1,0,1,0,1.2,0,1,1.2,0,1,0,1,1.2,0,1,1,0,1.2,1,0,1,1.2,0,1,0,1.2,1,0,1,1.2,0,1,0,1,1.2,0,1,1,0,1.2,0,1,1,1.2,0,1,0,1,1.2,0,1,0];
const LYZ_T2=[1,0,0,1,1,0,1,1.2,1,0,1,0,1.2,1,0,1,1.2,0,1,1,1.2,0,1,0,1.2,1,1,0,1.2,1,0,1.2,1,1,0,1,1.2,1,0,1.2,1,1,1.5,1,0,1.2,1,1.5,1,1,0,1,1.2,1.5,1,0,1.2,1,0,1,1.2,1.5,0,1,1,0,1.2,1,0,1,0,1,1.2,0,1,0];
const LYZ_T3=[1,0,1.2,1,0,1,0,1.2,0,1,0,1,0,1.2,0,1,0,1,1.2,0,1];
const LYZ_T4=[1,0,1.2,1,0,1,1.2,0,1,1.2,0,1.2,0,1,1.2,0,1,0,1,1.2,0,1,1.2,0,0,1,0,1.2,1,0,1.2,1,0,1,0,1.2,1,0,1.2,0,1,1,0,1.2,0,1,1.2,0,1,0,1.2,0,1,1.2,0,1,0,1.2,1,0,0,1,1.2,0,1,0,1.2,0,1,0,1,1.2,0,1,0,1.2,0,1,0,1,1.2,0,0,1,0,1.2,0,1,0,1.2,0,1,0,0,1,0,1.2,0,0,1,0];
const LYZ_T5=[1,1.2,1,0,1,1.2,1,0,1.2,1,1.2,1,0,1.2,1,1.2,1,0,1.2,1,1,1.2,1,0,1.2,1,1,0,1.2,1,1,1.2,0,1,1.2,1,0,1,1.2,1,1.2,0,1,1,0,1.2,1,0,1.2,1,1.2,1,1.2,0,1,1,1.2,0,1,1.2,1,1.2,0,1,1,1.2,0,1,1,1.2,0,1,1,1.2,0,1,0,1.2,1,0,1,1.2,0,1,1,0,1.2,1,0,1,0,1.2,1,0,1,0,1.2,0,1,1,0,1.2,0,1,0,1,0,1.2,0,1,0,0,1,0];
const LYZ_FA=[0,1,0,1.2,0,1,0,0,1,0,1.2,0,1,0,1,0,0,1.2,0,1,0,1,0,1,0,0,1.2,0,1,0,0,1,0,1.2,0,1,0,1,0,0,1.2,0,1,0,0,1,0,1.2,0,0,1,0,1,0,0,1.2,0,1,0,0,1,0,1.2,0,1,0,0,1,0,1,0,0,1.2,0,1,0,0,1,0,1,0,0];
const LYZ_FT=[0,1,0,1,0,1,0,1.2,0,1,0,1,0,1.2,0,1,0,1,0,1.2,0,1,0,1.2,0,1,0,1,0,1.2,1,0,1,0,1.2,0,1,1.2,0,1,0,1.2,1,0,1,0,1.2,0,1,0,1.2,0,1,1,0,1.2,0,1,0,1.2,0,1,0,1,0,1,0,1,0,1,0];
const LYZ_FC=[0,1,0,0,1,0,1.2,0,1,0,0,1,0,0,1.2,0,1,0,1,0,0,1.2,0,1,0,1,0,0,1.2,0,0,1,0,1,0,0,1.2,0,1,0,1,0,0,1.2,0,1,0,0,1.2,0,1,0,0,1,0,1.2,0,0,1,0,1,0,0,1.2,0,0,1,0,1,0,0,1.2,0,1,0,0,1,0,0,1.2,0,1,0,0,1,0,1,0,0,1.2,0,1,0,0,1,0,1.2,0,0,1,0];
const LYZ_FD=[1,0,1.2,0,1,0,1.2,1,0,1,1.2,0,1,1,0,1.2,1,0,1,1.2,0,1,1,1.2,0,1,0,1.2,1,0,1,1.2,0,1,1,1.2,0,1,1.2,0,1,1,1.2,0,1,0,1.2,1,1,0,1.2,0,1,1,1.2,0,1,1,0,1.2,1,0,1,1.2,1,0,1,0,1.2,1,0,1,0,1.2,1,0,1,0,1,1.2,0,1,1,0,1.2,0,1,0,1.2,1,0,1,0,1.2,0,1,0,1.2,0,1,0,1,0,1.2,0,1,0,0];
const LYZ_NK=[1,1.2,1.5,1,1.2,1.2,1.5,1,1.2,1,1.5,1.2,1,1.2,1.5,1,0,1.2,1.5,1,0,1.2,1,1.2,0];
const LYZ_FK=[1.2,1.5,1,1.2,1,1.5,1.2,1,1.2,1.5,1,1.2,1.5,1,1.2,0,1,1.2,1,1.2,1.5];
const LYZ_MO=[4.5,4.5,4.5,4.8,4.5,4.5,4.8,4.5,5,4.5,4.8,4.5,5,4.8,4.5,5,4.8,4.8,4.5,5,5.2,4.8,5,4.5,5,4.8,5.2,4.8,5,5.4,5,4.8,4.5,5,5,5.2,4.8,5.4,5.5,5,4.5,4.8,5,5.2,4.8,5,5.4,5.5,4.8,4.5,4.8,5,5.2,5,5.4,5.2,5,4.5,4.5,5,5.2,4.8,5,5.2,5.5,4.5,4.8,5,4.8,5,5.5,5,4.5,5,4.8,5,5.2,5.5,4.8,5,4.5,4.8,5,4.8,5,4.5,4.5,4.5,4.8,4.5,4.5,4.5,4,4.5,4.2,4,4.5,4,4.2,4.5,4.2];
const LYZ_FM=[4.5,4.8,4.5,4.8,4.5,5,4.5,4.8,5,4.8,4.5,5,4.8,4.8,5,4.5,5,4.8,5.2,4.8,4.5,5,4.8,5.2,5,4.8,5.4,5,5,4.8,5,5.2,4.8,5.2,5.5,5,4.8,4.5,5,5.2,4.8,5,5.4,5,4.8,4.5,4.8,5,5.2,4.8,5.2,5.5,5,4.5,5,4.8,5,5.2,4.8,5.5,5,5,4.8,5,4.8,5.2,5.5,5.2,4.8,5,4.8,5,5.2,5.5,4.8,4.5,4.8,5,4.8,5,4.5,4.5,4.8,4.2,4.5,4.2];
const LYZ_ST=[3.5,3.2,3,2.8,2.5,2.5,2.2,2,2.2,1.5,1.8,1.5,1.2,1.5,1.2,1.2,1];
const LYZ_SK=[4.5,4.5,4.5,4.2,4.5,4.2,4.2,1,1,1.2,.8];
const LYZ_DC=[1,.8,1,.8];
const LYZ_B=[1,1,1.2,1,1,1.2,1,0,1.2,1,0,1.2,1,0,0,1,1.2,0,1,1.2,0,1,1,1,1.2,0,1,1.2,0,1,1.2,1,0,1.2,0,1,1.2,0,0,1.2,1,0,1,1.2,0,1,0,0,1.2,0,1,1.2,0,1,1,0,1,0,0,1,0,0,1.2,0,1,1.2,0,1,0,1.2,1,0,1.2,0,0,1,0,1.2,0,1,1.2,0,1,0,1.2,1,0,1,0,0,1,1.2,0,1,1.2,0,1,0,0,1];
const LYZ_FL=[1,0,1.2,1,0,1,1.2,0,1,0,1.2,1,0,1,1.2,0,1,0,1.2,0,1,0,0,1,0,1.2,0,1,0,1.2,1,0,1,0,0,1,0,1.2,1,0,1.2,0,1,0,0,1.2,0,1,0,1,0,0,1,0,1.2,0,1,1.2,0,1,0,1.2,0,1,0,0,1.2,1,0,1,0,1.2,0,1,0,1,1.2,0,1,0,0,1.2,1,0,1,0,1.2,0,1,0,1,1.2,0,1,0,1];

const FCGR3A_NK=[1,.5,1,1.5,1,0,1.5,0,1,1.5,2.5,1.5,2,1,2,2.5,2,2.5,2,2.5,3,2.5,2,2.5,2];
const FCGR3A_FK=[0,.5,1,1,1.5,2,2.5,2.5,1,1.5,2,2.5,3,2,2.5,3,2.5,2.5,2.5,2,2];
const FCGR3A_ST=[1,1.5,1.5,2,2,2.5,2.5,3,3.5,3,3.5,4,3,3.5,3.5,3.2,3];
const FCGR3A_M=[7.3,.2,1,7.7,-.2,1.2,7.2,-.6,1.5,7.5,-1.1,1.3,7.9,-1.4,1.5,8.1,-1.8,1.2,7.7,-2.2,1.6,8,-2.6,1.8,6.9,-.5,1,6.6,-1.4,1.3,7.2,-2.2,1.1,7.6,-3,1.5,4.8,.6,1,5.6,-.2,1,1.7,7,.8,3.1,9.2,1,.4,1,1,-10.9,3,1,-11.3,1.4,1,-10.4,.6,1.1,-9.7,-1,1.5,-10.1,-1.4,1.5,-9.9,-1.75,2,1.1,-15.4,1,-3.5,-13.8,.8];

const GNLY_NK=[4,4.5,4,5,4.5,4,4.5,5,4.5,5,4.5,4.5,5,4.5,5,5.5,5,4.5,5,5,4.5,5,4.5,5,4.5];
const GNLY_FK=[4,4.5,4.5,4.5,5,4.5,5,5,4.5,5,4.5,5,5,4.5,5,5,4.5,5,4.5,4.5,4.5];
const GNLY_M=[4.8,-.2,1.5,5.2,-.2,1,5.3,-.6,2,5.7,-.6,1.5,5.4,-1,2,5.8,-1,1.5,6.2,-1,2,5.8,-1.4,2,6.2,-1.4,2.5,6.6,-1,2,6.6,-1.4,2,7,-1,2.5,6.3,-1.8,2,6.7,-1.8,2.5,7.1,-1.8,3,7,-1.4,2,7.4,-1.4,2.5,7.5,-1.8,3,7.9,-1.8,3.5,7.8,-1.4,2,6.8,-2.2,3,7.2,-2.2,2.5,7.6,-2.2,3.5,8,-2.2,3,8.2,-2.2,4,7.1,-2.6,3.5,7.5,-2.6,3,7.9,-2.6,4,8.1,-2.6,4,7,-3,3.5,7.3,-3,4,7.6,-3,3.5,7.9,-3,4,7.6,-3.4,4,7.9,-3.4,4,6.5,.2,1.5,7.3,.2,1.5,6.9,.6,1.5,7.5,.6,2,5.9,.6,1.2,6.3,1,1.5,5,1,1,4.7,.6,1.2,4.1,.2,1,1.5,8.3,1,1.9,9.1,1.2,3.5,9.1,1,4.3,8.3,1.2,1.2,7.4,1,2.8,6.9,1,.9,6,1.2,4.8,6.5,1,5.2,7.4,1,3.9,9.5,1,2,6,.8,1.6,7,1,3.7,7.85,1,.2,2.2,1.5,.55,1,1,1.25,1.8,1,1.6,.6,1,2.3,.2,1.2,.9,2.6,1,.35,.2,1.2,-11.7,1,1.5,-11.4,1.4,2,-11.3,2.2,1.5,-11.3,.6,1.5,-11,1.8,1,-10.5,3,1,-10.1,1,1,-9.7,-.2,1,-9.3,1.8,1,-10.9,3.4,1,-11.2,3,1,-8.9,.2,1,-7.2,.8,1.5,-6.7,.8,2,-6.3,.95,2,-3.5,-13.4,1,-2.5,-14,1,1.2,-13.8,1,1.3,-15,1,-1.2,-12.5,1.5];

const FCER1A_M=[-11.3,.2,2,-11.2,-.2,2.5,-10.9,-.6,2,-11,.2,1.5,-11.4,.6,1.5,-10.9,-.2,1.5,-10.6,-1,1,-10.4,3.8,1,-10.1,3.4,.8,-10.9,1,1,-5.3,-7.25,2,-5.15,-7.05,1.5,5,7.4,.5,1.5,9,.8,2.1,7.5,.6,5.7,1,1,5.4,.6,.8,6.5,-.9,1,7.1,-2.9,.8,-3.3,-13,.8,-2.3,-14,.6,.8,-14,.6,1.5,-15.4,.5];

const PPBP_M=[-8.65,1,2,-7.6,.85,3,-7.45,.85,3.5,-7.2,.8,3.5,-6.95,.85,4,-6.7,.8,5.5,-6.5,.8,4,-6.3,.95,2,-6.25,.8,2,-6.45,.75,3,-10.5,3.8,2,-11.3,2.9,2,-10.6,2.9,1.5,-9.4,1.3,2,-10,1.2,1,-8.9,3.5,.7,-10.9,-.3,1,1.4,9.75,1,2.1,8.8,1.2,5.5,7.3,.8,1.4,6.1,1.5,2.9,6,.7,4.5,6.4,.7,.8,5,.6,1.5,2.1,1,6.3,0,1.5,6.5,0,1.5,5.8,-.5,1.5,6.5,-1,1,-2.5,-13.2,1.2,.9,-13.3,.7,-10,-2.7,.8,-10.1,-4.3,.7];

// draw order of the clusters
const clusters=[T1,T2,T3,T4,T5,NK,MO,ST,SK,DC,B,FA,FT,FC,FD,FM,FL,FK];
// per gene: which cluster takes which expression list (clusters not named stay at 0)
const dense=[
 [[T1,CD3D_T1],[T2,CD3D_T2],[T3,CD3D_T3],[T4,CD3D_T4],[T5,CD3D_T5],[FA,CD3D_FA],[FT,CD3D_FB],[FC,CD3D_FC],[FD,CD3D_FD]],
 [[T2,CD8A_T2],[T5,CD8A_T5],[FT,CD8A_FB],[FD,CD8A_FD]],
 [[T1,IL7R_T1],[T2,IL7R_T2],[T3,IL7R_T3],[T4,IL7R_T4],[T5,IL7R_T5],[FA,IL7R_FA],[FT,IL7R_FB],[FC,IL7R_FC],[FD,IL7R_FD]],
 [[B,MS4A1_B],[FL,MS4A1_FL]],
 [[T1,LYZ_T1],[T2,LYZ_T2],[T3,LYZ_T3],[T4,LYZ_T4],[T5,LYZ_T5],[NK,LYZ_NK],[MO,LYZ_MO],[ST,LYZ_ST],[SK,LYZ_SK],[DC,LYZ_DC],[B,LYZ_B],[FA,LYZ_FA],[FT,LYZ_FT],[FC,LYZ_FC],[FD,LYZ_FD],[FM,LYZ_FM],[FL,LYZ_FL],[FK,LYZ_FK]],
 [[NK,FCGR3A_NK],[ST,FCGR3A_ST],[FK,FCGR3A_FK]],
 [[NK,GNLY_NK],[FK,GNLY_FK]],
 [],[]
];
const marks=[CD3D_M,CD8A_M,IL7R_M,MS4A1_M,[],FCGR3A_M,GNLY_M,FCER1A_M,PPBP_M];

// lightgrey -> blue interpolated in Lab, as ggplot does
function lab2hex(L,a,b){const fy=(L+16)/116,fx=fy+a/500,fz=fy-b/200;
 const f=t=>t>0.20690?t*t*t:(t-16/116)/7.787;
 const X=.95047*f(fx),Y=f(fy),Z=1.08883*f(fz);
 const r=3.2406*X-1.5372*Y-.4986*Z,g=-.9689*X+1.8758*Y+.0415*Z,bb=.0557*X-.2040*Y+1.0570*Z;
 const c=v=>{v=Math.max(0,Math.min(1,v));v=v<=.0031308?12.92*v:1.055*Math.pow(v,1/2.4)-.055;return Math.round(v*255).toString(16).padStart(2,'0')};
 return '#'+c(r)+c(g)+c(bb)}
const ramp=[];for(let i=0;i<=10;i++){const t=i/10;ramp.push(lab2hex(84.56+(32.3-84.56)*t,79.19*t,-107.86*t))}

const FONT='"Liberation Sans",Helvetica,Arial,sans-serif';
const PX=592.3,PY=492.4,GL=109.7,GT=70,GW=390.8,GH=348.5,BL=529,BT=165,BW=31.7,BH=159.3;
const opt={animation:false,backgroundColor:'#fff',textStyle:{fontFamily:FONT},title:[],grid:[],xAxis:[],yAxis:[],series:[],visualMap:[]};
const axisStyle={axisLine:{show:true,onZero:false,lineStyle:{color:'#000',width:2}},splitLine:{show:false}};
const lowered=pad=>({formatter:'{t|{value}}',rich:{t:{fontFamily:FONT,fontSize:24,color:'#000',padding:[pad,0,0,0]}}});
genes.forEach((g,i)=>{
 const c=i%3,r=Math.floor(i/3),ox=PX*c,oy=PY*r;
 opt.title.push({text:g,left:GL+GW/2+ox-5.5,top:35.5+oy,textAlign:'center',textVerticalAlign:'middle',textStyle:{fontFamily:FONT,fontSize:32.5,fontWeight:'bold',color:'#000'}});
 opt.grid.push({left:GL+ox,top:GT+oy,width:GW,height:GH});
 opt.grid.push({left:BL+ox,top:BT+oy,width:BW,height:BH});
 opt.xAxis.push({type:'value',gridIndex:2*i,min:-14.15,max:11.19,name:'umap_1',nameLocation:'middle',nameGap:43.5,nameTextStyle:{fontFamily:FONT,fontSize:28,color:'#000'},
  ...axisStyle,axisTick:{show:true,length:7,lineStyle:{color:'#000',width:2},customValues:xTicks},axisLabel:{fontFamily:FONT,fontSize:24,color:'#000',margin:13,customValues:xTicks}});
 opt.xAxis.push({type:'category',gridIndex:2*i+1,data:[g],show:false,boundaryGap:true});
 opt.yAxis.push({type:'value',gridIndex:2*i,min:-18.36,max:12.48,name:'umap_2',nameLocation:'middle',nameGap:56.5,nameTextStyle:{fontFamily:FONT,fontSize:28,color:'#000'},
  ...axisStyle,axisTick:{show:true,length:7,lineStyle:{color:'#000',width:2},customValues:yTicks},axisLabel:{margin:14.5,customValues:yTicks,...lowered(4)}});
 const tk={show:true,inside:true,length:6.3,lineStyle:{color:'rgba(255,255,255,.65)',width:1.5},customValues:barTicks[i]};
 opt.yAxis.push({type:'value',gridIndex:2*i+1,min:0,max:geneMax[i],position:'left',z:5,axisLine:{show:false},splitLine:{show:false},axisTick:tk,axisLabel:{show:false}});
 opt.yAxis.push({type:'value',gridIndex:2*i+1,min:0,max:geneMax[i],position:'right',z:5,axisLine:{show:false},splitLine:{show:false},axisTick:tk,axisLabel:{margin:14,customValues:barTicks[i],...lowered(6)}});
 const pts=[];
 clusters.forEach(cl=>{const e=dense[i].find(d=>d[0]===cl),v=e&&e[1];for(let n=0;n<cl.length;n+=2){pts.push([cl[n],cl[n+1],v&&v[n/2]!==undefined?v[n/2]:0])}});
 const m=marks[i];for(let n=0;n<m.length;n+=3)pts.push([m[n],m[n+1],m[n+2]]);
 const sIdx=opt.series.length;
 opt.series.push({type:'scatter',xAxisIndex:2*i,yAxisIndex:3*i,data:pts,encode:{x:0,y:1},symbolSize:5.8,itemStyle:{opacity:1},silent:true,z:2});
 opt.series.push({type:'bar',xAxisIndex:2*i+1,yAxisIndex:3*i+1,barWidth:'100%',data:[geneMax[i]],silent:true,z:1,
  itemStyle:{color:{type:'linear',x:0,y:1,x2:0,y2:0,colorStops:ramp.map((col,j)=>({offset:j/10,color:col}))}}});
 opt.visualMap.push({type:'continuous',show:false,seriesIndex:sIdx,dimension:2,min:0,max:geneMax[i],inRange:{color:ramp}});
});
const chart=echarts.init(document.getElementById('c'),null,{renderer:'canvas',width:1800,height:1500});
chart.setOption(opt);
</script></body></html>
